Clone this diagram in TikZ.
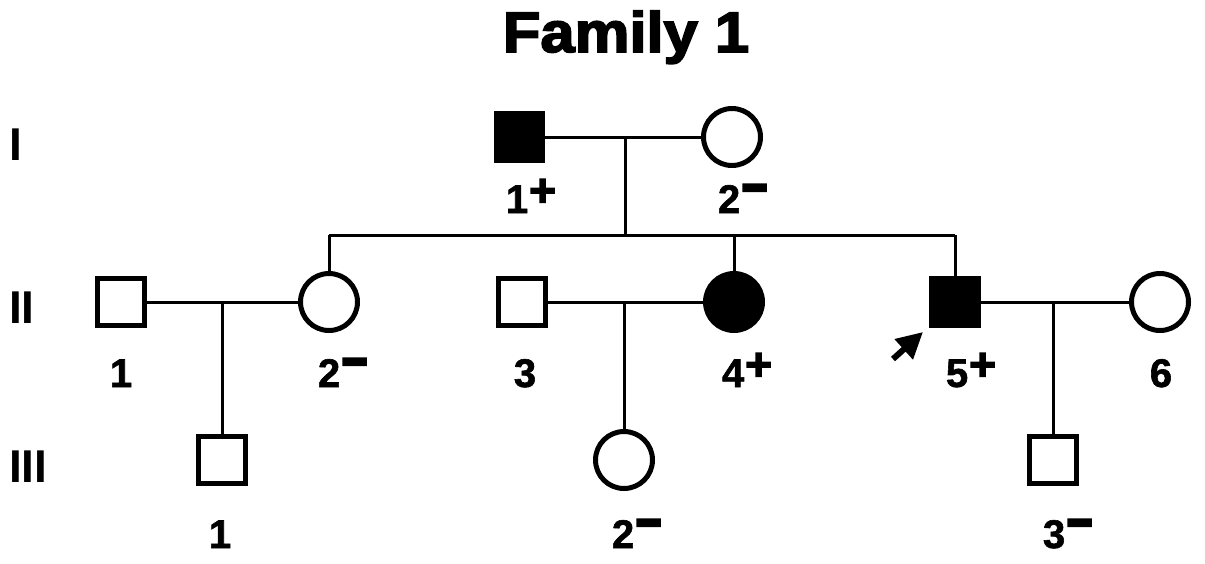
\documentclass[tikz,border=0pt]{standalone}
\usepackage{fontspec}
\setmainfont{Liberation Sans}
\newfontface\heavyfont{Liberation Sans Bold}[FakeBold=3]
\newfontface\semiheavy{Liberation Sans Bold}[FakeBold=1.5]
\usetikzlibrary{arrows.meta}
\newcommand\plusmark{\kern1pt\raisebox{7pt}{\scalebox{1.15}{\heavyfont +}}}
\newcommand\minusmark{\kern1pt\raisebox{4pt}{\scalebox{1.15}[1.6]{\heavyfont −}}}
\tikzset{
  male/.style={draw=black, line width=4.5pt, minimum size=47pt, inner sep=0pt, fill=white},
  female/.style={circle, draw=black, line width=5pt, minimum size=57pt, inner sep=0pt, fill=white},
  affected/.style={fill=black},
  lbl/.style={anchor=base, inner sep=0pt, font=\semiheavy\fontsize{40}{40}\selectfont},
  gen/.style={anchor=base west, inner sep=0pt, font=\bfseries\fontsize{46}{46}\selectfont},
  link/.style={line width=3pt}
}
\begin{document}
\begin{tikzpicture}[x=1pt, y=-1pt]
\useasboundingbox (0,0) rectangle (1205,563);
% title
\node[anchor=base, inner sep=0pt, font=\heavyfont\fontsize{57}{57}\selectfont] (title) at (626,52) {\scalebox{1.08}[1]{Family 1}};
% generation labels
\node[gen] (gI) at (9,160) {I};
\node[gen] (gII) at (9,323) {II};
\node[gen] (gIII) at (9,482) {III};
% coordinates for lines
\coordinate (m1) at (625,137);
\coordinate (s1) at (625,235);
\coordinate (sL) at (329,235);
\coordinate (s4) at (734,235);
\coordinate (sR) at (955,235);
\coordinate (m2) at (222,302);
\coordinate (m3) at (624,302);
\coordinate (m4) at (1053,302);
% lines (drawn first, under nodes)
\draw[link] (m1) -- (s1);
\draw[link] (sL) -- (sR);
\draw[link] (sL) -- (329,302);
\draw[link] (s4) -- (734,302);
\draw[link] (sR) -- (955,302);
\draw[link] (519.5,137) -- (732,137);
\draw[link] (121,302) -- (329,302);
\draw[link] (522,302) -- (734,302);
\draw[link] (955,302) -- (1160,302);
\draw[link] (m2) -- (222,460);
\draw[link] (m3) -- (624,460);
\draw[link] (m4) -- (1053,460);
% generation I
\node[male, affected] (I1) at (519.5,137) {};
\node[female] (I2) at (732,137) {};
% generation II
\node[male] (II1) at (121,302) {};
\node[female] (II2) at (329,302) {};
\node[male] (II3) at (522,302) {};
\node[female, affected] (II4) at (734,302) {};
\node[male, affected] (II5) at (955,302) {};
\node[female] (II6) at (1160,302) {};
% generation III
\node[male] (III1) at (222,460) {};
\node[female] (III2) at (624,460) {};
\node[male] (III3) at (1053,460) {};
% labels
\node[lbl] (lI1) at (531,213) {1\plusmark};
\node[lbl] (lI2) at (743,213) {2\minusmark};
\node[lbl] (lII1) at (121,387) {1};
\node[lbl] (lII2) at (343,387) {2\minusmark};
\node[lbl] (lII3) at (525,387) {3};
\node[lbl] (lII4) at (747,387) {4\plusmark};
\node[lbl] (lII5) at (971,387) {5\plusmark};
\node[lbl] (lII6) at (1161,387) {6};
\node[lbl] (lIII1) at (220,548) {1};
\node[lbl] (lIII2) at (637,548) {2\minusmark};
\node[lbl] (lIII3) at (1068,548) {3\minusmark};
% proband arrow
\coordinate (arrtail) at (893,359);
\coordinate (arrtip) at (923,332);
\draw[line width=6pt, -{Triangle[length=26pt, width=26pt]}] (arrtail) -- (arrtip);
\end{tikzpicture}
\end{document}
